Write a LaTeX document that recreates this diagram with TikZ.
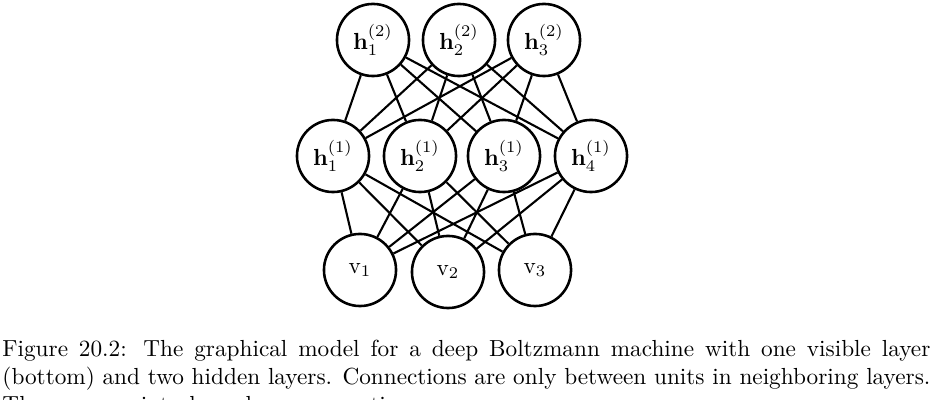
\documentclass[tikz,border=0pt]{standalone}
\usepackage{amsmath,amssymb}
\usepackage{tikz}
\usetikzlibrary{positioning}

\begin{document}
\begin{tikzpicture}[x=0.43pt,y=-0.43pt,
							neuron/.style={circle,draw,line width=1.1pt,minimum size=31pt,inner sep=0pt,fill=white},
							conn/.style={line width=0.9pt},
							caption/.style={anchor=north west,inner sep=0pt,text width=399pt,align=justify,font=\normalsize}]
							\useasboundingbox (0,0) rectangle (940,400);
							
							% second hidden layer
							\node[neuron] (h21) at (373,40)  {$\mathbf{h}^{(2)}_1$};
							\node[neuron] (h22) at (459,40)  {$\mathbf{h}^{(2)}_2$};
							\node[neuron] (h23) at (544,40)  {$\mathbf{h}^{(2)}_3$};
							% first hidden layer
							\node[neuron] (h11) at (333,156) {$\mathbf{h}^{(1)}_1$};
							\node[neuron] (h12) at (420,156) {$\mathbf{h}^{(1)}_2$};
							\node[neuron] (h13) at (504,156) {$\mathbf{h}^{(1)}_3$};
							\node[neuron] (h14) at (591,156) {$\mathbf{h}^{(1)}_4$};
							% visible layer
							\node[neuron] (v1) at (360,270) {$\mathrm{v}_1$};
							\node[neuron] (v2) at (448,272) {$\mathrm{v}_2$};
							\node[neuron] (v3) at (535,270) {$\mathrm{v}_3$};
							
							\draw[conn] (h21)--(h11); \draw[conn] (h21)--(h12); \draw[conn] (h21)--(h13); \draw[conn] (h21)--(h14);
							\draw[conn] (h22)--(h11); \draw[conn] (h22)--(h12); \draw[conn] (h22)--(h13); \draw[conn] (h22)--(h14);
							\draw[conn] (h23)--(h11); \draw[conn] (h23)--(h12); \draw[conn] (h23)--(h13); \draw[conn] (h23)--(h14);
							\draw[conn] (h11)--(v1); \draw[conn] (h11)--(v2); \draw[conn] (h11)--(v3);
							\draw[conn] (h12)--(v1); \draw[conn] (h12)--(v2); \draw[conn] (h12)--(v3);
							\draw[conn] (h13)--(v1); \draw[conn] (h13)--(v2); \draw[conn] (h13)--(v3);
							\draw[conn] (h14)--(v1); \draw[conn] (h14)--(v2); \draw[conn] (h14)--(v3);
							
							\node[caption] (cap) at (2,340) {Figure 20.2: The graphical model for a deep Boltzmann machine with one visible layer\linebreak
								(bottom) and two hidden layers. Connections are only between units in neighboring layers.\linebreak
								There are no intralayer layer connections.};
						\end{tikzpicture}
\end{document}
